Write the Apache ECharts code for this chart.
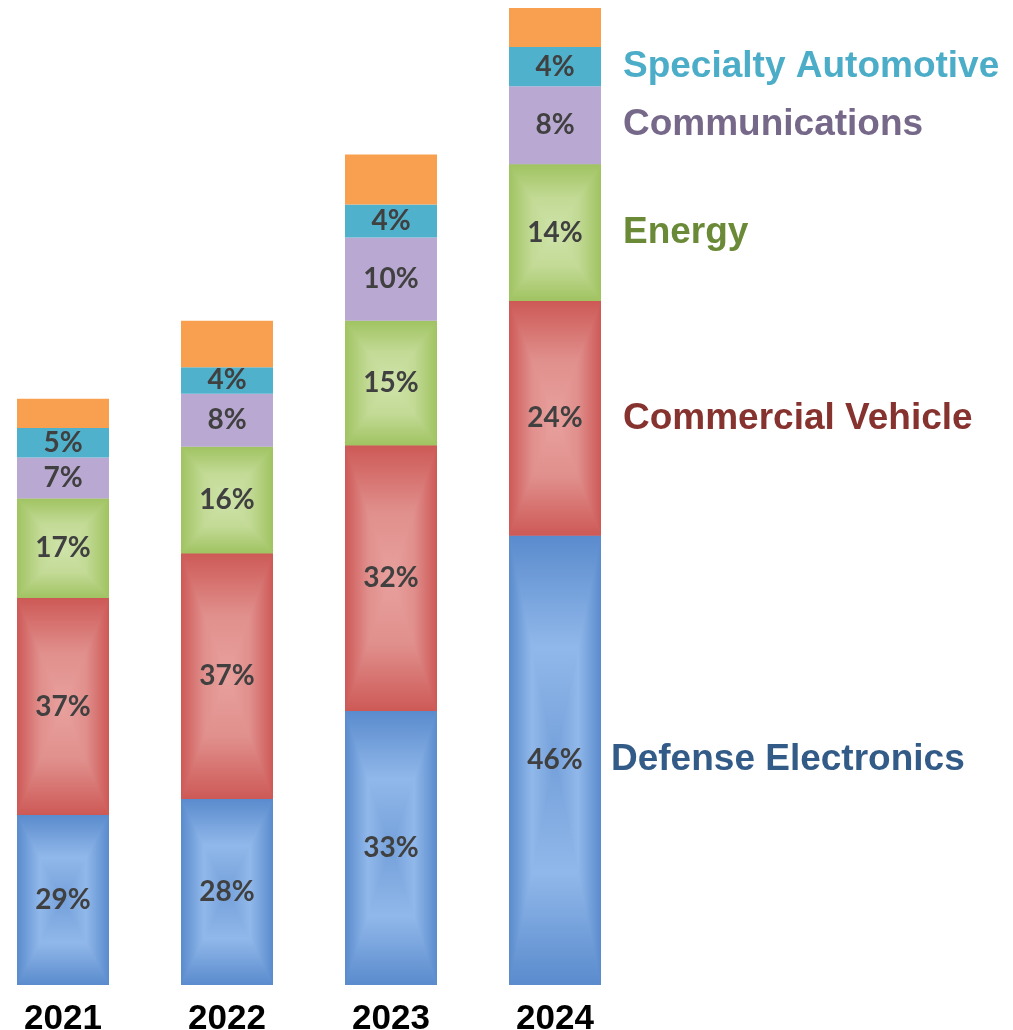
<!DOCTYPE html>
<html>
<head>
<meta charset="utf-8">
<title>Revenue mix by segment, 2021–2024</title>
<script src="https://cdn.jsdelivr.net/npm/echarts@6/dist/echarts.min.js"></script>
<style>
  html, body { margin: 0; padding: 0; background: #ffffff; }
  #chart { width: 1013px; height: 1030px; }
</style>
</head>
<body>
<div id="chart"></div>
<script>
// Fiscal years on the category axis
const years = ['2021', '2022', '2023', '2024'];

// Relative size of each year's total (2024 = 100)
const totals = [60, 68, 85, 100];

// Share of each year's total, in percent, per segment (bottom to top)
const defenseElectronics = [29, 28, 33, 46];
const commercialVehicle = [37, 37, 32, 24];
const energy = [17, 16, 15, 14];
const communications = [7, 8, 10, 8];
const specialtyAutomotive = [5, 4, 4, 4];
const other = [5, 7, 6, 4];

// Segment names, in stacking order
const segmentNames = ['Defense Electronics', 'Commercial Vehicle', 'Energy',
                      'Communications', 'Specialty Automotive', 'Other'];
const segmentShares = [defenseElectronics, commercialVehicle, energy,
                       communications, specialtyAutomotive, other];

// Look of each segment: fill stops (edge, ring, centre), caption colour, caption gap
const segmentStyles = [
  { edge: '#5a8bcd', ring: '#91b8ea', centre: '#74a0da', caption: '#335b88', gap: 10, shaded: true },
  { edge: '#cd5956', ring: '#e08f8c', centre: '#e8a19e', caption: '#86322f', gap: 22, shaded: true },
  { edge: '#a0c361', ring: '#c2da95', centre: '#cfe3aa', caption: '#6a8a37', gap: 22, shaded: true },
  { edge: '#b9a8d1', caption: '#766889', gap: 22, shaded: false },
  { edge: '#4fb1cc', caption: '#4cadc8', gap: 22, shaded: false },
  { edge: '#f99f50', caption: null, gap: 0, shaded: false }
];

const BAR_FRACTION = 92 / 164;
const LABEL_FONT = 'Lato, "Open Sans", sans-serif';
const CAPTION_FONT = '"Liberation Sans", Arial, sans-serif';

// Stack the segments: each item is [yearIndex, base, top, percent]
const seriesData = segmentNames.map(function () { return []; });
years.forEach(function (y, i) {
  let base = 0;
  segmentShares.forEach(function (shares, s) {
    const v = totals[i] * shares[i] / 100;
    seriesData[s].push([i, base, base + v, shares[i]]);
    base += v;
  });
});

function linear(x, y, x2, y2, st) {
  return {
    type: 'linear', x: x, y: y, x2: x2, y2: y2, global: true,
    colorStops: [
      { offset: 0, color: st.edge },
      { offset: 0.5, color: st.ring },
      { offset: 1, color: st.centre }
    ]
  };
}

function makeRenderItem(segIndex) {
  const st = segmentStyles[segIndex];
  return function (params, api) {
    const xi = api.value(0);
    const pBase = api.coord([xi, api.value(1)]);
    const pTop = api.coord([xi, api.value(2)]);
    const w = api.size([1, 0])[0] * BAR_FRACTION;
    const left = pBase[0] - w / 2;
    const right = left + w;
    const top = pTop[1];
    const bottom = pBase[1];
    const cx = pBase[0];
    const cy = (top + bottom) / 2;
    const d = 3; // overlap so triangle edges blend without seams
    const children = [];

    if (st.shaded) {
      // Rectangular "from centre" shading built from four triangles meeting in the middle
      children.push({ type: 'rect', shape: { x: left, y: top, width: w, height: bottom - top },
                      style: { fill: st.edge } });
      children.push({ type: 'polygon',
                      shape: { points: [[left, top], [right, top], [right, top + d], [cx, cy + d], [left, top + d]] },
                      style: { fill: linear(0, top, 0, cy, st) } });
      children.push({ type: 'polygon',
                      shape: { points: [[left, bottom], [right, bottom], [right, bottom - d], [cx, cy - d], [left, bottom - d]] },
                      style: { fill: linear(0, bottom, 0, cy, st) } });
      children.push({ type: 'polygon', shape: { points: [[left, top], [cx, cy], [left, bottom]] },
                      style: { fill: linear(left, 0, cx, 0, st) } });
      children.push({ type: 'polygon', shape: { points: [[right, top], [cx, cy], [right, bottom]] },
                      style: { fill: linear(right, 0, cx, 0, st) } });
    } else {
      children.push({ type: 'rect', shape: { x: left, y: top, width: w, height: bottom - top },
                      style: { fill: st.edge } });
    }

    // Percentage label inside the segment
    if (st.caption) {
      children.push({
        type: 'text', x: cx, y: cy,
        style: { text: api.value(3) + '%', fill: '#404040', align: 'center', verticalAlign: 'middle',
                 font: 'bold 28px ' + LABEL_FONT }
      });
    }

    // Segment name beside the latest year's bar
    if (st.caption && xi === years.length - 1) {
      children.push({
        type: 'text', x: right + st.gap, y: cy,
        style: { text: segmentNames[segIndex], fill: st.caption, align: 'left', verticalAlign: 'middle',
                 font: 'bold 37px ' + CAPTION_FONT }
      });
    }
    return { type: 'group', children: children };
  };
}

const chart = echarts.init(document.getElementById('chart'), null, { renderer: 'canvas' });

chart.setOption({
  animation: false,
  backgroundColor: '#ffffff',
  grid: { left: -19, top: 8, width: 656, bottom: 45, containLabel: false, outerBoundsMode: 'none' },
  xAxis: {
    type: 'category',
    data: years,
    axisLine: { show: false },
    axisTick: { show: false },
    splitLine: { show: false },
    axisLabel: {
      margin: 17,
      color: '#000000',
      fontFamily: CAPTION_FONT,
      fontWeight: 'bold',
      fontSize: 35
    }
  },
  yAxis: {
    type: 'value',
    min: 0,
    max: 100,
    show: false,
    splitLine: { show: false }
  },
  series: segmentNames.map(function (name, s) {
    return {
      type: 'custom',
      name: name,
      renderItem: makeRenderItem(s),
      encode: { x: 0, y: [1, 2] },
      clip: false,
      data: seriesData[s]
    };
  })
});
</script>
</body>
</html>
